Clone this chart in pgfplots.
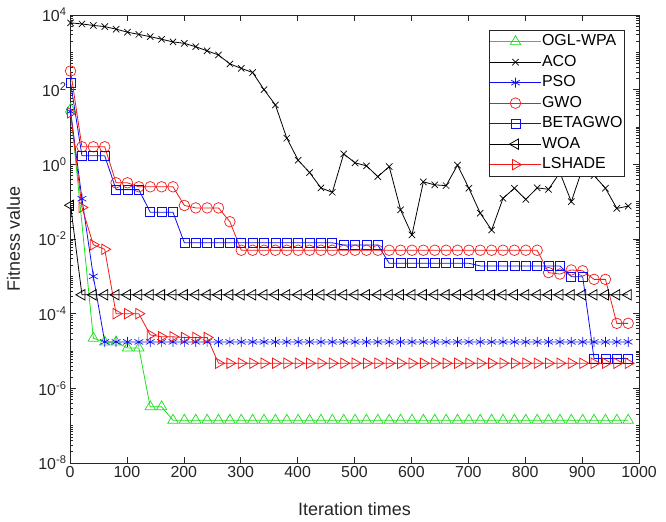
\documentclass[border=0pt]{standalone}
\usepackage{fontspec}
\setmainfont{Liberation Sans}
\usepackage{pgfplots}
\pgfplotsset{compat=1.18}
\definecolor{axgray}{gray}{0.15}
\definecolor{mgreen}{rgb}{0.1,0.88,0.1}
\definecolor{mred}{rgb}{0.95,0.1,0.1}
\definecolor{mblue}{rgb}{0.05,0.05,0.95}

% minor log ticks 2..9 of every decade
\def\minorlist{1e-8}
\foreach \d in {-8,...,3}{\foreach \m in {2,...,10}{\xdef\minorlist{\minorlist,\m e\d}}}

\begin{document}
\begin{tikzpicture}[x=1bp,y=1bp]
\begin{axis}[
    at={(0,0)}, anchor=south west,
    scale only axis, width=569bp, height=448bp,
    ymode=log, log basis y=10,
    xmin=0, xmax=1000, ymin=1e-8, ymax=1e4,
    xtick={0,100,...,1000},
    ytick={1e-8,1e-6,1e-4,1e-2,1,1e2,1e4},
    yticklabels={10\textsuperscript{-8},10\textsuperscript{-6},10\textsuperscript{-4},10\textsuperscript{-2},10\textsuperscript{0},10\textsuperscript{2},10\textsuperscript{4}},
    minor ytick/.expanded={\minorlist},
    xtick pos=both, ytick pos=both,
    tick align=inside,
    major tick length=6bp, minor tick length=3bp,
    tick style={axgray, line width=0.6pt},
    axis line style={axgray, line width=0.6pt},
    ticklabel style={font=\fontsize{16}{18}\selectfont, text=axgray},
    /pgf/number format/assume math mode=true,
    /pgf/number format/1000 sep={},
    label style={font=\fontsize{18}{20}\selectfont, text=axgray},
    xlabel={Iteration times},
    ylabel={Fitness value},
    xlabel style={at={(axis description cs:0.5,-0.118)}, anchor=base},
    ylabel style={at={(axis description cs:-0.0993,0.5)}, anchor=center},
    legend style={at={(rel axis cs:0.975,0.9665)}, anchor=north east,
        draw=axgray, fill=white, font=\fontsize{16}{18}\selectfont,
        inner xsep=1bp, inner ysep=3bp, row sep=3.6bp,
        nodes={inner sep=1.2bp, text height=11.5bp, text depth=3bp}},
    legend cell align=left,
    legend image code/.code={\draw[mark repeat=2,mark phase=2] plot coordinates {(0bp,0bp) (25bp,0bp) (50bp,0bp)};},
    every axis plot/.append style={line width=0.8pt, mark options={solid, line width=0.7pt}},
]

% OGL-WPA
\addplot[color=mgreen, mark=triangle, mark size=6bp] coordinates {
(1,30)(41,2.2e-5)(61,1.75e-5)(81,1.75e-5)(101,1.2e-5)(121,1.2e-5)(141,3.2e-7)(161,3.2e-7)
(181,1.4e-7)(201,1.4e-7)(221,1.4e-7)(241,1.4e-7)(261,1.4e-7)(281,1.4e-7)(301,1.4e-7)(321,1.4e-7)
(341,1.4e-7)(361,1.4e-7)(381,1.4e-7)(401,1.4e-7)(421,1.4e-7)(441,1.4e-7)(461,1.4e-7)(481,1.4e-7)
(501,1.4e-7)(521,1.4e-7)(541,1.4e-7)(561,1.4e-7)(581,1.4e-7)(601,1.4e-7)(621,1.4e-7)(641,1.4e-7)
(661,1.4e-7)(681,1.4e-7)(701,1.4e-7)(721,1.4e-7)(741,1.4e-7)(761,1.4e-7)(781,1.4e-7)(801,1.4e-7)
(821,1.4e-7)(841,1.4e-7)(861,1.4e-7)(881,1.4e-7)(901,1.4e-7)(921,1.4e-7)(941,1.4e-7)(961,1.4e-7)
(981,1.4e-7)
};
\addlegendentry{OGL-WPA}

% ACO
\addplot[color=black, mark=x, mark size=4.5bp] coordinates {
(1,6166)(21,5754)(41,5248)(61,4898)(81,4169)(101,3467)(121,3020)(141,2630)
(161,2239)(181,1905)(201,1738)(221,1413)(241,1096)(261,851)(281,490)(301,372)
(321,288)(341,100)(361,38.9)(381,5.01)(401,1.29)(421,0.603)(441,0.234)(461,0.178)
(481,1.905)(501,1.096)(521,0.912)(541,0.468)(561,0.871)(581,0.0603)(601,0.0129)(621,0.339)
(641,0.282)(661,0.269)(681,0.955)(701,0.229)(721,0.049)(741,0.0174)(761,0.123)(781,0.229)
(801,0.115)(821,0.234)(841,0.214)(861,0.6)(881,0.1)(901,0.8)(921,0.5)(941,0.229)
(961,0.066)(981,0.076)
};
\addlegendentry{ACO}

% PSO
\addplot[color=mblue, mark=asterisk, mark size=5bp] coordinates {
(1,26)(21,0.12)(41,1.0e-3)(61,1.75e-5)(81,1.75e-5)(101,1.75e-5)(121,1.75e-5)(141,1.75e-5)
(161,1.75e-5)(181,1.75e-5)(201,1.75e-5)(221,1.75e-5)(241,1.75e-5)(261,1.75e-5)(281,1.75e-5)(301,1.75e-5)
(321,1.75e-5)(341,1.75e-5)(361,1.75e-5)(381,1.75e-5)(401,1.75e-5)(421,1.75e-5)(441,1.75e-5)(461,1.75e-5)
(481,1.75e-5)(501,1.75e-5)(521,1.75e-5)(541,1.75e-5)(561,1.75e-5)(581,1.75e-5)(601,1.75e-5)(621,1.75e-5)
(641,1.75e-5)(661,1.75e-5)(681,1.75e-5)(701,1.75e-5)(721,1.75e-5)(741,1.75e-5)(761,1.75e-5)(781,1.75e-5)
(801,1.75e-5)(821,1.75e-5)(841,1.75e-5)(861,1.75e-5)(881,1.75e-5)(901,1.75e-5)(921,1.75e-5)(941,1.75e-5)
(961,1.75e-5)(981,1.75e-5)
};
\addlegendentry{PSO}

% GWO
\addplot[color=mred, mark=o, mark size=5.3bp] coordinates {
(1,316)(21,2.95)(41,2.95)(61,2.95)(81,0.32)(101,0.32)(121,0.25)(141,0.25)
(161,0.25)(181,0.25)(201,0.079)(221,0.068)(241,0.068)(261,0.068)(281,0.029)(301,0.005)
(321,0.005)(341,0.005)(361,0.005)(381,0.005)(401,0.005)(421,0.005)(441,0.005)(461,0.005)
(481,0.005)(501,0.005)(521,0.005)(541,0.005)(561,0.005)(581,0.005)(601,0.005)(621,0.005)
(641,0.005)(661,0.005)(681,0.005)(701,0.005)(721,0.005)(741,0.005)(761,0.005)(781,0.005)
(801,0.005)(821,0.005)(841,0.00126)(861,0.00115)(881,0.00148)(901,0.00141)(921,0.00083)(941,0.00083)
(961,5.5e-5)(981,5.5e-5)
};
\addlegendentry{GWO}

% BETAGWO
\addplot[color=mblue, mark=square, mark size=4.5bp] coordinates {
(1,155)(21,1.7)(41,1.7)(61,1.7)(81,0.21)(101,0.21)(121,0.21)(141,0.052)
(161,0.052)(181,0.052)(201,0.0079)(221,0.0079)(241,0.0079)(261,0.0079)(281,0.0079)(301,0.0079)
(321,0.0079)(341,0.0079)(361,0.0079)(381,0.0079)(401,0.0079)(421,0.0079)(441,0.0079)(461,0.0079)
(481,0.0069)(501,0.0069)(521,0.0069)(541,0.0069)(561,0.00224)(581,0.00224)(601,0.00224)(621,0.00224)
(641,0.00224)(661,0.00224)(681,0.00224)(701,0.00224)(721,0.0019)(741,0.0019)(761,0.0019)(781,0.0019)
(801,0.0019)(821,0.0019)(841,0.0019)(861,0.0019)(881,0.00098)(901,0.00098)(921,6.3e-6)(941,6.3e-6)
(961,6.3e-6)(981,6.3e-6)
};
\addlegendentry{BETAGWO}

% WOA
\addplot[color=black, mark=triangle, mark size=6bp, mark options={rotate=90}] coordinates {
(1,0.08)(21,3.2e-4)(41,3.2e-4)(61,3.2e-4)(81,3.2e-4)(101,3.2e-4)(121,3.2e-4)(141,3.2e-4)
(161,3.2e-4)(181,3.2e-4)(201,3.2e-4)(221,3.2e-4)(241,3.2e-4)(261,3.2e-4)(281,3.2e-4)(301,3.2e-4)
(321,3.2e-4)(341,3.2e-4)(361,3.2e-4)(381,3.2e-4)(401,3.2e-4)(421,3.2e-4)(441,3.2e-4)(461,3.2e-4)
(481,3.2e-4)(501,3.2e-4)(521,3.2e-4)(541,3.2e-4)(561,3.2e-4)(581,3.2e-4)(601,3.2e-4)(621,3.2e-4)
(641,3.2e-4)(661,3.2e-4)(681,3.2e-4)(701,3.2e-4)(721,3.2e-4)(741,3.2e-4)(761,3.2e-4)(781,3.2e-4)
(801,3.2e-4)(821,3.2e-4)(841,3.2e-4)(861,3.2e-4)(881,3.2e-4)(901,3.2e-4)(921,3.2e-4)(941,3.2e-4)
(961,3.2e-4)(981,3.2e-4)
};
\addlegendentry{WOA}

% LSHADE
\addplot[color=mred, mark=triangle, mark size=6bp, mark options={rotate=-90}] coordinates {
(1,24)(21,0.07)(41,0.007)(61,0.0053)(81,1e-4)(101,1e-4)(121,1e-4)(141,2.7e-5)
(161,2.4e-5)(181,2.4e-5)(201,2.3e-5)(221,2.3e-5)(241,2.3e-5)(261,4.7e-6)(281,4.7e-6)(301,4.7e-6)
(321,4.7e-6)(341,4.7e-6)(361,4.7e-6)(381,4.7e-6)(401,4.7e-6)(421,4.7e-6)(441,4.7e-6)(461,4.7e-6)
(481,4.7e-6)(501,4.7e-6)(521,4.7e-6)(541,4.7e-6)(561,4.7e-6)(581,4.7e-6)(601,4.7e-6)(621,4.7e-6)
(641,4.7e-6)(661,4.7e-6)(681,4.7e-6)(701,4.7e-6)(721,4.7e-6)(741,4.7e-6)(761,4.7e-6)(781,4.7e-6)
(801,4.7e-6)(821,4.7e-6)(841,4.7e-6)(861,4.7e-6)(881,4.7e-6)(901,4.7e-6)(921,4.7e-6)(941,4.7e-6)
(961,4.7e-6)(981,4.7e-6)
};
\addlegendentry{LSHADE}

\end{axis}
\pgfresetboundingbox
\path[use as bounding box] (-70,-59) rectangle (596,463);
\end{tikzpicture}
\end{document}
